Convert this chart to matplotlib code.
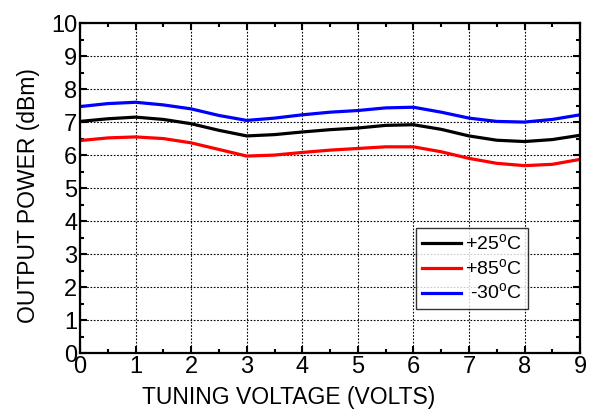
import numpy as np
import matplotlib
matplotlib.use("Agg")
import matplotlib.pyplot as plt
from matplotlib.ticker import MultipleLocator

plt.rcParams['font.family'] = ['Liberation Sans', 'DejaVu Sans']
plt.rcParams['mathtext.fontset'] = 'custom'
plt.rcParams['mathtext.rm'] = 'Liberation Sans'

# Tuning voltage (V)
volts = [0, 0.5, 1, 1.5, 2, 2.5, 3, 3.5, 4, 4.5, 5, 5.5, 6, 6.5, 7, 7.5, 8, 8.5, 9]

# Output power (dBm)
p_25 = [7.02, 7.10, 7.15, 7.08, 6.95, 6.75, 6.58, 6.62, 6.70, 6.77, 6.82, 6.90,
        6.92, 6.78, 6.58, 6.45, 6.41, 6.47, 6.60]
p_85 = [6.44, 6.52, 6.55, 6.50, 6.37, 6.17, 5.97, 6.00, 6.08, 6.15, 6.20, 6.25,
        6.25, 6.10, 5.90, 5.75, 5.68, 5.72, 5.87]
p_m30 = [7.47, 7.56, 7.60, 7.52, 7.40, 7.20, 7.05, 7.12, 7.22, 7.30, 7.35, 7.43,
         7.45, 7.30, 7.12, 7.02, 7.00, 7.08, 7.22]

labels = ['+25$^{\\rm o}$C', '+85$^{\\rm o}$C', ' -30$^{\\rm o}$C']

fig = plt.figure(figsize=(5.95, 4.12), dpi=100)
ax = fig.add_axes([0.1345, 0.143, 0.8405, 0.801])

ax.plot(volts, p_25, color='black', linewidth=2.3, label=labels[0])
ax.plot(volts, p_85, color='red', linewidth=2.3, label=labels[1])
ax.plot(volts, p_m30, color='blue', linewidth=2.3, label=labels[2])

ax.set_xlim(0, 9)
ax.set_ylim(0, 10)
ax.xaxis.set_major_locator(MultipleLocator(1))
ax.yaxis.set_major_locator(MultipleLocator(1))
ax.xaxis.set_minor_locator(MultipleLocator(0.5))
ax.yaxis.set_minor_locator(MultipleLocator(0.5))
ax.tick_params(which='both', direction='in', top=True, right=True, width=1.5)
ax.tick_params(which='major', length=5, labelsize=17, pad=2)
ax.tick_params(which='minor', length=3)
ax.grid(True, which='major', color='black', linestyle=(0, (1.5, 1.5)), linewidth=0.8)
for s in ax.spines.values():
    s.set_linewidth(1.6)

ax.set_xlabel('TUNING VOLTAGE (VOLTS)', fontsize=16.5)
ax.xaxis.set_label_coords(0.418, -0.1)
ax.set_ylabel('OUTPUT POWER (dBm)', fontsize=16.5)
ax.yaxis.set_label_coords(-0.08, 0.476)

leg = ax.legend(loc='lower right', bbox_to_anchor=(0.896, 0.133), fontsize=14,
                frameon=True, fancybox=False, edgecolor='black', handlelength=2.0,
                handletextpad=0.2, borderpad=0.3, labelspacing=0.2, borderaxespad=0)
leg.get_frame().set_linewidth(1.0)

fig.savefig('out.png', dpi=100)
